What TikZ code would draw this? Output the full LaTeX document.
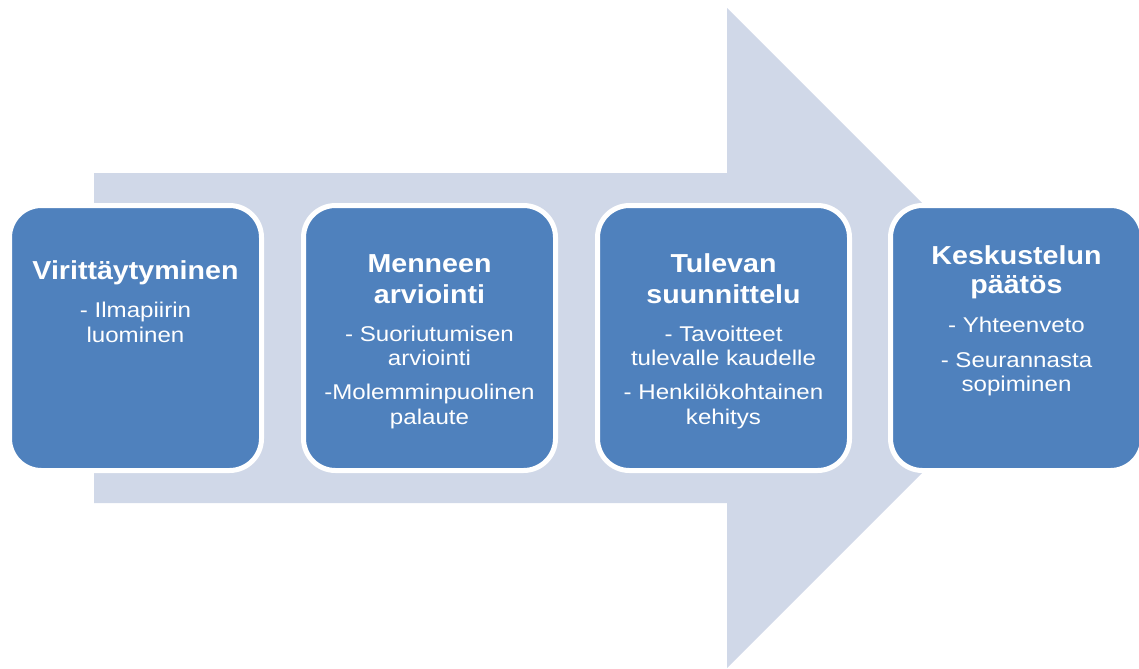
\documentclass[tikz,border=0pt]{standalone}
\usepackage{fontspec}
\setmainfont{Liberation Sans}[FakeStretch=1.13]
\newfontfamily\ttlfont{Liberation Sans}[FakeStretch=1.1]
\definecolor{boxblue}{HTML}{4F81BD}
\definecolor{arrowgray}{HTML}{D0D8E8}
\tikzset{
  stepbox/.style={draw=white, line width=3.75pt, fill=boxblue, rounded corners=24pt,
    minimum width=189pt, minimum height=198.75pt, inner sep=0pt},
  ttl/.style={anchor=base, text=white, inner sep=0pt, font=\ttlfont\fontsize{19.5}{23}\selectfont\bfseries},
  bdy/.style={anchor=base, text=white, inner sep=0pt, font=\fontsize{16}{18}\selectfont},
}
\begin{document}
\begin{tikzpicture}[x=0.75pt,y=-0.75pt]
\useasboundingbox (0,0) rectangle (1139,668);
% big arrow
\fill[arrowgray] (94,173) -- (727,173) -- (727,8) -- (1057,338) -- (727,668) -- (727,503) -- (94,503) -- cycle;
% boxes
\node[stepbox] (b1) at (135.5,338) {};
\node[stepbox] (b2) at (429.5,338) {};
\node[stepbox] (b3) at (723.5,338) {};
\node[stepbox] (b4) at (1016.5,338) {};
% box 1
\node[ttl] (t1a) at (135.5,279.5) {Virittäytyminen};
\node[bdy] (s1a) at (135.5,317) {- Ilmapiirin};
\node[bdy] (s1b) at (135.5,342) {luominen};
% box 2
\node[ttl] (t2a) at (429.5,272) {Menneen};
\node[ttl] (t2b) at (429.5,303) {arviointi};
\node[bdy] (s2a) at (429.5,341) {- Suoriutumisen};
\node[bdy] (s2b) at (429.5,365) {arviointi};
\node[bdy] (s2c) at (429.5,399) {-Molemminpuolinen};
\node[bdy] (s2d) at (429.5,424) {palaute};
% box 3
\node[ttl] (t3a) at (723.5,272) {Tulevan};
\node[ttl] (t3b) at (723.5,303) {suunnittelu};
\node[bdy] (s3a) at (723.5,341) {- Tavoitteet};
\node[bdy] (s3b) at (723.5,365) {tulevalle kaudelle};
\node[bdy] (s3c) at (723.5,399) {- Henkilökohtainen};
\node[bdy] (s3d) at (723.5,424) {kehitys};
% box 4
\node[ttl] (t4a) at (1016.5,264) {Keskustelun};
\node[ttl] (t4b) at (1016.5,293) {päätös};
\node[bdy] (s4a) at (1016.5,332) {- Yhteenveto};
\node[bdy] (s4b) at (1016.5,367) {- Seurannasta};
\node[bdy] (s4c) at (1016.5,391) {sopiminen};
\end{tikzpicture}
\end{document}
